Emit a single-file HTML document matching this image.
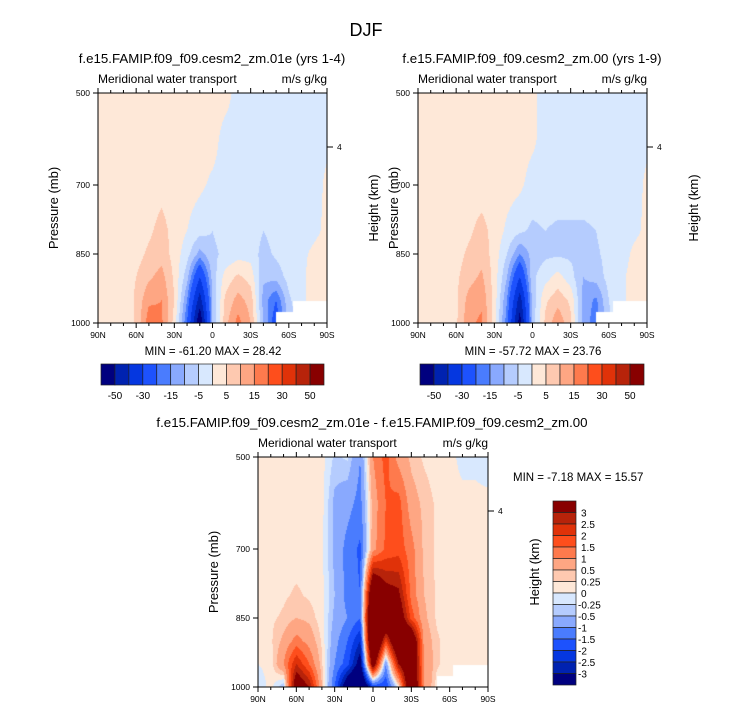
<!DOCTYPE html>
<html><head><meta charset="utf-8">
<style>
html,body{margin:0;padding:0;background:#fff;}
#root{position:relative;width:733px;height:712px;overflow:hidden;font-family:"Liberation Sans",sans-serif;}
canvas{position:absolute;}
svg{position:absolute;left:0;top:0;}
</style></head>
<body>
<div id="root">
<canvas id="c1" width="229" height="230" style="left:98px;top:93px"></canvas>
<canvas id="c2" width="229" height="230" style="left:418px;top:93px"></canvas>
<canvas id="c3" width="230" height="230" style="left:258px;top:457px"></canvas>
<svg id="s" width="733" height="712"></svg>
</div>
<script>
// ---- data ----
const latitudes = [90,80,70,60,50,40,30,20,10,0,-10,-20,-30,-40,-50,-60,-70,-80,-90];
const pressureLevels = [500,600,700,800,850,900,950,1000];
const panel1Values = [
 [2,2,2,2,2,2,2,2,2,2,2,-2,-2,-2,-2,-2,-2,-2,-2],
 [2,2,2,2,2,2,2,2,2,2,-2,-2,-2,-2,-2,-2,-2,-2,-1],
 [2,2,2,2,2,3,2,2,1,-1,-2,-2,-2,-2,-2,-2,-2,-2,1],
 [2,2,2,2,4,7,3,0,-3,-5,-3,-2,-2,-5,-3,-2,-2,-1,1],
 [2,2,2,3,6,8,3,-3,-12,-6,-4,-2,-2,-7,-4,-2,-1,1,2],
 [2,2,2,5,9,12,4,-8,-30,-8,2,6,3,-9,-8,-3,-1,2,2],
 [2,2,1,6,14,15,5,-15,-45,-10,6,12,8,-12,-20,-6,-1,2,2],
 [2,2,1,6,18,16,3,-20,-60,-10,8,17,10,-10,-25,-8,-2,0,1]
];
const panel2Values = [
 [2,2,2,2,2,2,2,2,2,1,-2,-2,-2,-2,-2,-2,-2,-2,-2],
 [2,2,2,2,2,2,2,2,2,1,-2,-2,-2,-2,-2,-2,-2,-2,-1],
 [2,2,2,2,2,2,2,2,1,-2,-2,-2,-2,-2,-2,-2,-2,-2,1],
 [2,2,2,2,4,7,3,-1,-4,-6,-5,-6,-6,-6,-5,-2,-2,-1,1],
 [2,2,2,3,6,8,3,-5,-15,-8,-6,-6,-6,-7,-6,-3,-2,1,2],
 [2,2,2,4,8,11,3,-10,-30,-6,-2,2,-3,-10,-8,-3,-1,2,2],
 [2,2,1,4,12,14,3,-15,-45,-8,4,8,4,-12,-16,-5,-1,2,2],
 [2,2,1,4,14,16,2,-18,-55,-8,6,14,6,-12,-18,-6,-2,0,1]
];
const diffValues = [
 [0.1,0.1,0.1,0.1,0.1,0.1,-0.3,-0.2,-1,1,1.7,0.8,0.4,0.2,0.1,0.1,-0.1,-0.1,-0.2],
 [0.1,0.1,0.1,0.1,0.1,0.1,-0.6,-0.8,-1.2,0.7,1.5,1.7,0.7,0.4,0.2,0.1,0.1,0.1,0.1],
 [0.1,0.1,0.1,0.1,0.1,0.05,-0.6,-1.2,-1.6,0.8,1.6,1.8,1.2,0.4,0.2,0.1,0.1,0.1,0.1],
 [0.1,0.1,0.2,0.3,0.2,0.1,-0.5,-1.2,-1.5,5,3.5,3.2,1.3,0.5,0.2,0.1,0.1,0.1,0.1],
 [0.1,0.2,0.3,0.5,0.4,0.1,-0.6,-1,-1.5,6,5,4,1.8,0.6,0.2,0.1,0.1,0.1,0.1],
 [0.1,0.2,0.6,1.2,0.8,0.2,-0.8,-1.5,-2.5,6,2,5,4.5,0.8,0.3,0.1,0.1,0.2,0.1],
 [0,0.1,1,2.5,1.5,0.3,-1,-1.8,-3.5,4,-1,3,4.5,1,0.3,0.1,0.1,0.2,0.1],
 [-0.2,0.1,-0.5,4,3,0.5,-1.5,-4,-5,-2,-2,0,5,1,0.1,0.1,0.1,0.1,0.1]
];
const levelsTop = [-50,-40,-30,-20,-15,-10,-5,0,5,10,15,20,30,40,50];
const levelsDiff = [-3,-2.5,-2,-1.5,-1,-0.5,-0.25,0,0.25,0.5,1,1.5,2,2.5,3];
const topBarLabels = ["-50","-30","-15","-5","5","15","30","50"];
const diffBarLabels = ["-3","-2.5","-2","-1.5","-1","-0.5","-0.25","0","0.25","0.5","1","1.5","2","2.5","3"];
const xTickLabels = ["90N","60N","30N","0","30S","60S","90S"];
const xTickLats = [90,60,30,0,-30,-60,-90];
const yTickLabels = ["500","700","850","1000"];
const yTickValues = [500,700,850,1000];
const missingBoxes = [[-50,-90,977],[-63,-90,952]];
const colors = ["#00007f","#0022b0","#0537e0","#1d52fd","#4a7cfe","#89a9fe","#b5ccfe","#d8e8fe",
 "#fee8d8","#fec9b0","#fea683","#fe7a4d","#fe4e1c","#e03209","#b7230a","#880000"];

// ---- helpers ----
function rgb(h){return [parseInt(h.substr(1,2),16),parseInt(h.substr(3,2),16),parseInt(h.substr(5,2),16)];}
const rgbs = colors.map(rgb);
function levelIndex(v,lv){let i=0;while(i<lv.length&&v>=lv[i])i++;return i;}
function sample(grid,lat,p){
  let fx=(90-lat)/10; let i0=Math.min(17,Math.floor(fx)); let tx=fx-i0;
  let j0=0; while(j0<pressureLevels.length-2&&p>pressureLevels[j0+1])j0++;
  let ty=(p-pressureLevels[j0])/(pressureLevels[j0+1]-pressureLevels[j0]);
  const a=grid[j0][i0],b=grid[j0][i0+1],c=grid[j0+1][i0],d=grid[j0+1][i0+1];
  return (a*(1-tx)+b*tx)*(1-ty)+(c*(1-tx)+d*tx)*ty;
}
function drawField(id,grid,lv,w,h){
  const cv=document.getElementById(id),ctx=cv.getContext('2d');
  const img=ctx.createImageData(w,h);
  for(let y=0;y<h;y++)for(let x=0;x<w;x++){
    const lat=90-(x+0.5)/w*180,p=500+(y+0.5)/h*500;
    let col=rgbs[levelIndex(sample(grid,lat,p),lv)];
    for(const m of missingBoxes){ if(lat<=m[0]&&p>=m[2]) col=[255,255,255]; }
    const k=(y*w+x)*4; img.data[k]=col[0];img.data[k+1]=col[1];img.data[k+2]=col[2];img.data[k+3]=255;
  }
  ctx.putImageData(img,0,0);
}
drawField('c1',panel1Values,levelsTop,229,230);
drawField('c2',panel2Values,levelsTop,229,230);
drawField('c3',diffValues,levelsDiff,230,230);

const svg=document.getElementById('s');
const NS='http://www.w3.org/2000/svg';
function el(tag,attrs,parent){const e=document.createElementNS(NS,tag);for(const k in attrs)e.setAttribute(k,attrs[k]);(parent||svg).appendChild(e);return e;}
function txt(x,y,s,size,anchor,parent,extra){const t=el('text',Object.assign({x:x,y:y,'font-size':size,'text-anchor':anchor||'middle',fill:'#000','font-family':'Liberation Sans, sans-serif'},extra||{}),parent);t.textContent=s;return t;}

const t0=txt(366,36,'DJF',18);



function panel(x0,y0,w,h,title,titleX,name,pOff){
  const g=el('g',{});
  
  
  const xs=lat=>x0+(90-lat)/180*w;
  const ys=p=>y0+(p-500)/500*h;
  el('rect',{x:x0,y:y0,width:w,height:h,fill:'none',stroke:'#000','stroke-width':1},g);
  for(let lat=90;lat>=-90;lat-=10){
    const major=lat%30===0, L=major?5:3;
    el('line',{x1:xs(lat),x2:xs(lat),y1:y0+h,y2:y0+h+L,stroke:'#000','stroke-width':1},g);
    el('line',{x1:xs(lat),x2:xs(lat),y1:y0,y2:y0-L,stroke:'#000','stroke-width':1},g);
  }
  xTickLats.forEach((lat,i)=>{const t=txt(xs(lat),y0+h+15,xTickLabels[i],8.5,'middle',g);
    });
  yTickValues.forEach((p,i)=>{el('line',{x1:x0-5,x2:x0,y1:ys(p),y2:ys(p),stroke:'#000'},g);
    const t=txt(x0-8,ys(p)+3,yTickLabels[i],8.5,'end',g);
    });
  el('line',{x1:x0+w,x2:x0+w+6,y1:y0+54,y2:y0+54,stroke:'#000'},g);
  txt(x0+w+10,y0+57,'4',8.5,'start',g);
  const yl=txt(0,0,'Pressure (mb)',13,'middle',g,{transform:`translate(${x0-pOff},${y0+h/2}) rotate(-90)`});
  
  const hl=txt(0,0,'Height (km)',13,'middle',g,{transform:`translate(${x0+w+51},${y0+h/2}) rotate(-90)`});
  
  const tt=txt(titleX,y0-30,title,13.3,'middle',g);
  
  txt(x0,y0-10,'Meridional water transport',12,'start',g);
  txt(x0+w,y0-10,'m/s g/kg',12,'end',g);
}
panel(98,93,229,230,'f.e15.FAMIP.f09_f09.cesm2_zm.01e (yrs 1-4)',212,'panel-01e',40);
panel(418,93,229,230,'f.e15.FAMIP.f09_f09.cesm2_zm.00 (yrs 1-9)',532,'panel-00',20);
panel(258,457,230,230,'f.e15.FAMIP.f09_f09.cesm2_zm.01e - f.e15.FAMIP.f09_f09.cesm2_zm.00',372,'panel-diff',40);

const m1=txt(213,355,'MIN = -61.20  MAX =  28.42',11.5);

const m2=txt(533,355,'MIN = -57.72  MAX =  23.76',11.5);

const m3=txt(513,481,'MIN =  -7.18  MAX =  15.57',11.5,'start');


function hbar(x0,w,name){
  const g=el('g',{});
  
  
  const bw=w/colors.length;
  colors.forEach((c,i)=>{const r=el('rect',{x:x0+i*bw,y:364,width:bw,height:21,fill:c,stroke:'#222','stroke-width':0.7},g);
    });
  topBarLabels.forEach((s,k)=>{const t=txt(x0+(2*k+1)*bw,399,s,10,'middle',g);
    });
}
hbar(101,223,'colorbar-01e');
hbar(420,224,'colorbar-00');

(function(){
  const g=el('g',{});
  
  
  const y0=501,h=184,bh=h/colors.length;
  for(let i=0;i<colors.length;i++){
    const r=el('rect',{x:553,y:y0+i*bh,width:23,height:bh,fill:colors[colors.length-1-i],stroke:'#222','stroke-width':0.7},g);
    
  }
  for(let k=0;k<diffBarLabels.length;k++){
    const s=diffBarLabels[diffBarLabels.length-1-k];
    const t=txt(s[0]==='-'?578:581,y0+(k+1)*bh+4,s,10,'start',g);
    
  }
})();
</script>
</body></html>
